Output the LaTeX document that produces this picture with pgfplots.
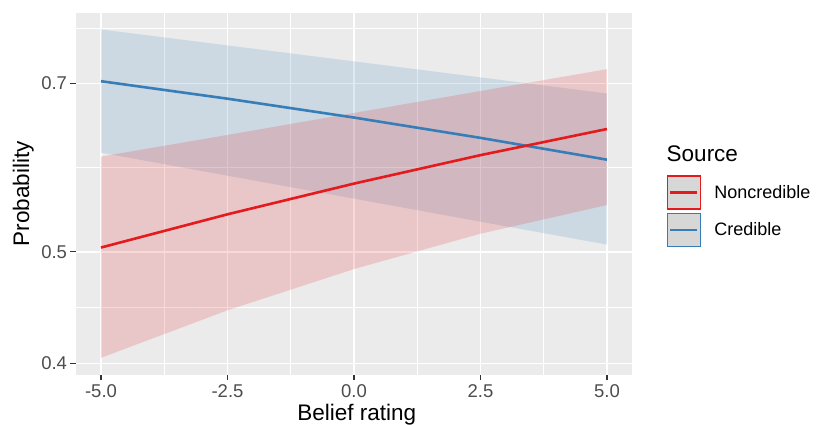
\documentclass[border=0pt]{standalone}
\usepackage{fontspec}
\setmainfont{Liberation Sans}
\usepackage{pgfplots}
\pgfplotsset{compat=1.18}
\definecolor{ncred}{HTML}{E41A1C}
\definecolor{credblue}{HTML}{377EB8}
\definecolor{panelgray}{HTML}{EBEBEB}
\definecolor{keygray}{RGB}{215,215,215}
\definecolor{ticklab}{HTML}{4D4D4D}
\definecolor{tickcol}{HTML}{333333}
\begin{document}
\begin{tikzpicture}
\useasboundingbox (0,0) rectangle (816bp,425bp);
\begin{axis}[
  at={(75.7bp,50bp)}, anchor=south west,
  scale only axis, width=556.6bp, height=362.3bp,
  xmin=-5.5, xmax=5.5,
  ymode=log, ymin=0.391, ymax=0.806,
  clip=false,
  axis background/.style={fill=panelgray},
  axis line style={draw=none},
  xtick={-5,-2.5,0,2.5,5},
  xticklabels={-5.0,-2.5,0.0,2.5,5.0},
  minor xtick={-3.75,-1.25,1.25,3.75},
  ytick={0.4,0.5,0.7},
  yticklabels={0.4,0.5,0.7},
  minor ytick={0.4472,0.5916,0.7815},
  grid=both,
  major grid style={white, line width=1.5bp},
  minor grid style={white, line width=0.75bp},
  tick align=outside,
  xtick pos=bottom, ytick pos=left,
  major tick length=5.5bp, minor tick length=0pt,
  major tick style={tickcol, line width=1.1bp},
  tick label style={font=\fontsize{18.5bp}{20bp}\selectfont, text=ticklab, inner sep=0pt},
  xticklabel style={anchor=north, yshift=-3.5bp},
  yticklabel style={anchor=east, xshift=-3bp},
  xlabel={Belief rating},
  ylabel={Probability},
  label style={font=\fontsize{22.5bp}{25bp}\selectfont, inner sep=0pt},
  xlabel style={at={(axis description cs:0.505,-0.1242)}, anchor=base},
  ylabel style={at={(axis description cs:-0.0749,0.5)}, anchor=south},
  legend image code/.code={%
    \draw[#1, line width=1.6bp, fill=keygray] (0bp,-16.5bp) rectangle (33bp,16.5bp);
    \draw[#1, line width=2.4bp] (3bp,0bp) -- (30bp,0bp);
    \path[draw=none, fill=none] (0bp,0bp) rectangle (47bp,0.1bp);},
  legend style={at={(axis description cs:1.0615,0.552)}, anchor=north west,
    draw=none, fill=none, inner sep=0pt, outer sep=0pt, row sep=3bp,
    font=\fontsize{18bp}{20bp}\selectfont,
    nodes={inner sep=0pt}},
  legend cell align=left,
]
% ribbons
\addplot[forget plot, draw=none, fill=credblue, fill opacity=0.17]
  coordinates {(-5,0.7796) (-2.5,0.7551) (0,0.7314) (2.5,0.7084) (5,0.686)
               (5,0.5073) (2.5,0.531) (0,0.556) (-2.5,0.5821) (-5,0.6095)} -- cycle;
\addplot[forget plot, draw=none, fill=ncred, fill opacity=0.17]
  coordinates {(-5,0.6047) (-2.5,0.6314) (0,0.6598) (2.5,0.6893) (5,0.7202)
               (5,0.549) (2.5,0.5184) (0,0.4831) (-2.5,0.4449) (-5,0.4046)} -- cycle;
% lines
\addplot[forget plot, credblue, line width=2.6bp]
  coordinates {(-5,0.703) (-2.5,0.6789) (0,0.6538) (2.5,0.6278) (5,0.601)};
\addplot[forget plot, ncred, line width=2.6bp]
  coordinates {(-5,0.5043) (-2.5,0.5389) (0,0.573) (2.5,0.6065) (5,0.639)};
\addlegendimage{ncred}
\addlegendentry{Noncredible}
\addlegendimage{credblue}
\addlegendentry{Credible}
\node[anchor=base west, inner sep=0pt, font=\fontsize{22.5bp}{25bp}\selectfont]
  at (axis description cs:1.0615,0.588) {Source};
\end{axis}
\end{tikzpicture}
\end{document}
